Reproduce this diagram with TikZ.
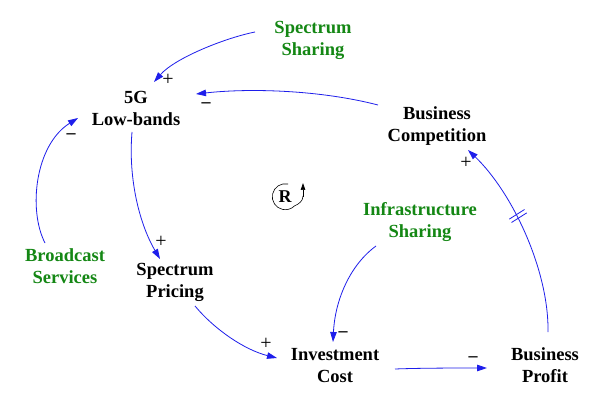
\documentclass[tikz,border=0pt]{standalone}
\usepackage{fontspec}
\setmainfont{Liberation Serif}
\usetikzlibrary{arrows.meta,calc}
\definecolor{vgreen}{RGB}{20,135,20}
\definecolor{vblue}{RGB}{30,30,235}
\begin{document}
\begin{tikzpicture}[x=1pt,y=-1pt,
 var/.style={font=\fontsize{18.5}{22}\selectfont\bfseries, align=center, inner sep=1pt},
 ext/.style={var, text=vgreen},
 link/.style={draw=vblue, line width=0.8pt, -{Triangle[length=10pt,width=6.5pt]}},
 pol/.style={font=\fontsize{20}{20}\selectfont, inner sep=0pt},
 neg/.style={font=\fontsize{18}{18}\selectfont\bfseries, inner sep=0pt},
]
\useasboundingbox[fill=white] (0,0) rectangle (607,403);
% variables
\node[ext] (ss) at (313,40) {Spectrum\\Sharing};
\node[var] (lb) at (136,108) {5G\\Low-bands};
\node[var] (bc) at (437,126) {Business\\Competition};
\node[ext] (bs) at (65,266) {Broadcast\\Services};
\node[var] (sp) at (175,282) {Spectrum\\Pricing};
\node[ext] (is) at (420,222) {Infrastructure\\Sharing};
\node[var] (ic) at (335,366) {Investment\\Cost};
\node[var] (bp) at (545,365) {Business\\Profit};
% links
\draw[link] ($(ss)+(-58,-8)$) .. controls (225,38) and (175,58) .. ($(lb)+(18,-26)$);
\draw[link] ($(bc)+(-59,-21)$) .. controls (320,90) and (250,88) .. ($(lb)+(60,-14)$);
\draw[link] ($(bs)+(-20,-23)$) .. controls (28,210) and (35,145) .. ($(lb)+(-58,10)$);
\draw[link] ($(lb)+(-4,24)$) .. controls (128,180) and (140,225) .. ($(sp)+(-15,-23)$);
\draw[link] ($(sp)+(20,24)$) .. controls (215,330) and (245,350) .. ($(ic)+(-58,-8)$);
\draw[link] ($(is)+(-44,24)$) .. controls (350,265) and (335,300) .. ($(ic)+(-2,-24)$);
\draw[link] ($(ic)+(60,3)$) .. controls (420,368) and (460,368) .. ($(bp)+(-58,3)$);
\draw[link] ($(bp)+(3,-33)$) .. controls (549,270) and (512,192) .. ($(bc)+(31,24)$);
% delay mark
\draw[draw=vblue, line width=0.8pt] (509.3,219.1) -- (524.5,209.5) (511.5,222.5) -- (526.7,212.9);
% polarities
\node[pol] (p1) at (168,80) {+};
\node[neg] (p2) at (206,105) {–};
\node[neg] (p3) at (71,136) {–};
\node[pol] (p4) at (161,242) {+};
\node[pol] (p5) at (266,344) {+};
\node[neg] (p6) at (343,334) {–};
\node[neg] (p7) at (473,359) {–};
\node[pol] (p8) at (466,163) {+};
% loop symbol
\node[font=\fontsize{18}{18}\selectfont\bfseries, inner sep=0pt] (loop) at (285,197) {R};
\draw[line width=0.6pt] (288,184) arc[start angle=-78, end angle=-315, radius=13]
  .. controls (299,204) and (303,201) .. (303,196);
\draw[line width=0.7pt, -{Triangle[length=7pt,width=4.5pt]}] (303,197) -- (303,183);
\end{tikzpicture}
\end{document}
